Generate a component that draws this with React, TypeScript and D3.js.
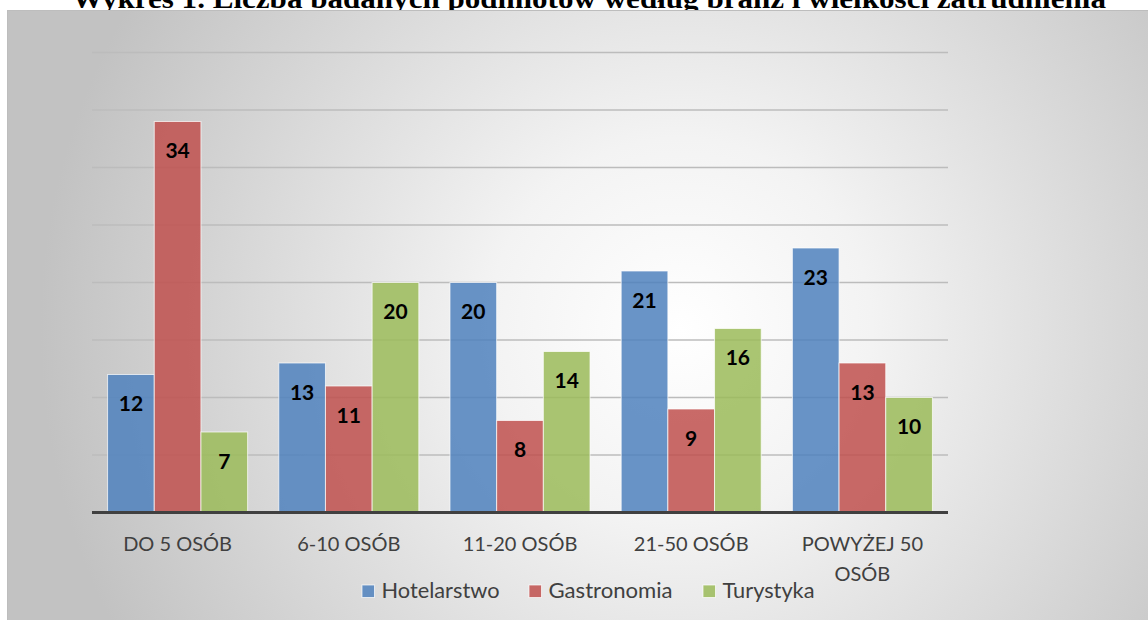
import React from "react";
import * as d3 from "d3";

const categories = ["DO 5 OSÓB", "6-10 OSÓB", "11-20 OSÓB", "21-50 OSÓB", "POWYŻEJ 50 OSÓB"];
const categoryLines = [["DO 5 OSÓB"], ["6-10 OSÓB"], ["11-20 OSÓB"], ["21-50 OSÓB"], ["POWYŻEJ 50", "OSÓB"]];
const seriesNames = ["Hotelarstwo", "Gastronomia", "Turystyka"];
const hotelarstwo = [12, 13, 20, 21, 23];
const gastronomia = [34, 11, 8, 9, 13];
const turystyka = [7, 20, 14, 16, 10];
const seriesValues = [hotelarstwo, gastronomia, turystyka];
const seriesColors = ["#4F81BD", "#C0504D", "#9BBB59"];
const gridTicks = [5, 10, 15, 20, 25, 30, 35, 40];
const title = "Wykres 1. Liczba badanych podmiotów według branż i wielkości zatrudnienia";

const W = 1148;
const H = 620;
const plotLeft = 92;
const plotRight = 948;
const plotTop = 52.5;
const plotBottom = 512.5;

export default function App() {
  const x0 = d3.scaleBand<string>().domain(categories).range([plotLeft, plotRight]).padding(0);
  const bw = x0.bandwidth();
  const x1 = d3.scaleBand<string>().domain(seriesNames).range([bw * 0.091, bw * 0.909]).padding(0);
  const y = d3.scaleLinear().domain([0, 40]).range([plotBottom, plotTop]);
  const legendX = [362, 529, 703];
  const legendW = [118, 124, 92];

  return (
    <svg width={W} height={H} style={{ position: "absolute", left: 0, top: 0 }}>
      <defs>
        <radialGradient id="bg" gradientUnits="userSpaceOnUse" cx={680} cy={330} r={640}>
          <stop offset="0" stopColor="#ffffff" />
          <stop offset="0.3" stopColor="#f3f3f3" />
          <stop offset="1" stopColor="#c2c2c2" />
        </radialGradient>
      </defs>
      <rect x={0} y={0} width={W} height={H} fill="#ffffff" />
      <text
        x={72}
        y={8}
        textLength={1034}
        lengthAdjust="spacingAndGlyphs"
        fontFamily="'Liberation Serif', serif"
        fontWeight="bold"
        fontSize={27}
        fill="#000"
      >
        {title}
      </text>
      <rect x={7.5} y={10.5} width={W} height={H} fill="url(#bg)" stroke="#bdbdbd" strokeWidth={1} />
      {gridTicks.map((t) => (
        <line key={t} x1={plotLeft} x2={plotRight} y1={y(t)} y2={y(t)} stroke="#bcbcbc" strokeWidth={1.3} />
      ))}
      {categories.map((c, ci) => (
        <g key={c} transform={`translate(${x0(c)},0)`}>
          {seriesNames.map((s, si) => {
            const v = seriesValues[si][ci];
            const bx = x1(s)!;
            return (
              <g key={s}>
                <rect
                  x={bx}
                  y={y(v)}
                  width={x1.bandwidth()}
                  height={plotBottom - y(v)}
                  fill={seriesColors[si]}
                  fillOpacity={0.85}
                  stroke="#ffffff"
                  strokeOpacity={0.7}
                  strokeWidth={1}
                />
                <text
                  x={bx + x1.bandwidth() / 2}
                  y={y(v) + 28}
                  textAnchor="middle"
                  dominantBaseline="central"
                  fontFamily="Lato, sans-serif"
                  fontWeight="bold"
                  fontSize={21}
                  fill="#000"
                >
                  {v}
                </text>
              </g>
            );
          })}
        </g>
      ))}
      <line x1={plotLeft} x2={plotRight} y1={plotBottom} y2={plotBottom} stroke="#404040" strokeWidth={3} />
      {categories.map((c, ci) => (
        <text
          key={c}
          x={x0(c)! + bw / 2}
          y={551}
          textAnchor="middle"
          fontFamily="Lato, sans-serif"
          fontSize={20}
          fill="#404040"
        >
          {categoryLines[ci].map((ln, li) => (
            <tspan key={li} x={x0(c)! + bw / 2} dy={li === 0 ? 0 : 30}>
              {ln}
            </tspan>
          ))}
        </text>
      ))}
      {seriesNames.map((s, si) => (
        <g key={s} transform={`translate(${legendX[si]},0)`}>
          <rect x={0} y={585} width={12.5} height={12.5} fill={seriesColors[si]} fillOpacity={0.85} stroke="#ffffff" strokeOpacity={0.7} strokeWidth={1} />
          <text
            x={19.5}
            y={597.5}
            textLength={legendW[si]}
            lengthAdjust="spacingAndGlyphs"
            fontFamily="Lato, sans-serif"
            fontSize={20.5}
            fill="#404040"
          >
            {s}
          </text>
        </g>
      ))}
    </svg>
  );
}
